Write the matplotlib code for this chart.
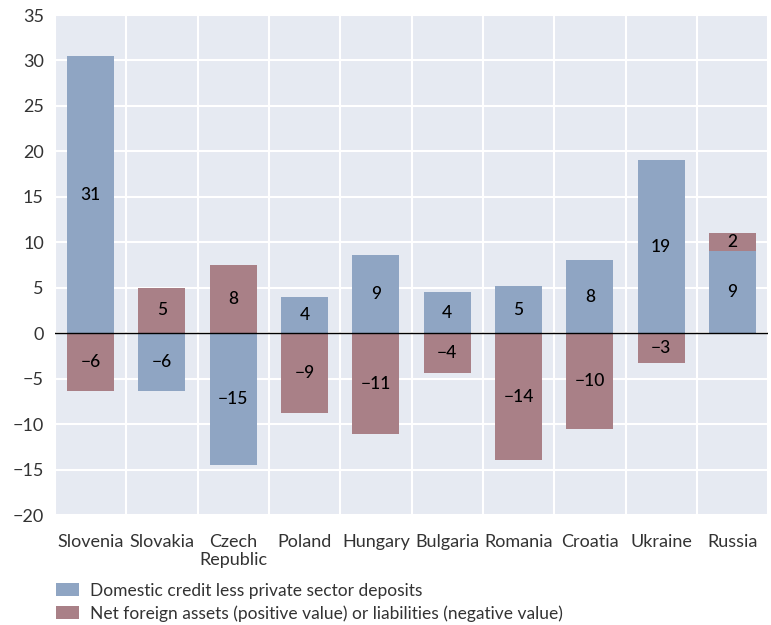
import matplotlib
matplotlib.use("Agg")
import matplotlib.pyplot as plt
import numpy as np

countries = ["Slovenia", "Slovakia", "Czech\nRepublic", "Poland", "Hungary",
             "Bulgaria", "Romania", "Croatia", "Ukraine", "Russia"]
domestic = [30.5, -6.4, -14.5, 4.0, 8.6, 4.5, 5.2, 8.0, 19.0, 9.0]
foreign = [-6.4, 5.0, 7.5, -8.8, -11.1, -4.4, -14.0, -10.5, -3.3, 2.0]
labels_dom = ["31", "\u22126", "\u221215", "4", "9", "4", "5", "8", "19", "9"]
labels_for = ["\u22126", "5", "8", "\u22129", "\u221211", "\u22124", "\u221214", "\u221210", "\u22123", "2"]
yticks = [35, 30, 25, 20, 15, 10, 5, 0, -5, -10, -15, -20]

blue = "#8fa5c3"
red = "#a98087"
bg = "#e6eaf2"

plt.rcParams['font.family'] = ['Lato', 'DejaVu Sans']
fig = plt.figure(figsize=(7.71, 6.25), dpi=100)
ax = fig.add_axes([0.0713, 0.176, 0.925, 0.8])
ax.set_facecolor(bg)

x = np.arange(len(countries))
w = 0.66
f_bottom = [d if (d > 0 and f > 0) or (d < 0 and f < 0) else 0 for d, f in zip(domestic, foreign)]
ax.bar(x, domestic, w, color=blue, zorder=3,
       label="Domestic credit less private sector deposits")
ax.bar(x, foreign, w, bottom=f_bottom, color=red, zorder=3,
       label="Net foreign assets (positive value) or liabilities (negative value)")

for i in range(len(countries)):
    ax.text(x[i], domestic[i] / 2, labels_dom[i], ha="center", va="center",
            fontsize=12.5, color="black", fontweight="medium", zorder=4)
    ax.text(x[i], f_bottom[i] + foreign[i] / 2, labels_for[i], ha="center", va="center",
            fontsize=12.5, color="black", fontweight="medium", zorder=4)

ax.axhline(0, color="black", lw=1, zorder=5)
ax.set_xlim(-0.5, len(countries) - 0.5)
ax.set_ylim(-20, 35)
ax.set_yticks(yticks)
ax.set_yticklabels([str(t).replace("-", "\u2212") for t in yticks])
ax.set_xticks(np.arange(len(countries) + 1) - 0.5, minor=False)
ax.set_xticklabels([])
ax.set_xticks(x, minor=True)
ax.set_xticklabels(countries, minor=True, linespacing=1.1)
ax.grid(True, which="major", color="white", lw=1.5, zorder=1)
ax.tick_params(axis="both", which="both", length=0, labelsize=13, colors="#333333")
ax.tick_params(axis="x", which="minor", pad=14)
ax.tick_params(axis="y", pad=8)
for s in ax.spines.values():
    s.set_visible(False)

leg = fig.legend(loc="lower left", bbox_to_anchor=(0.068, 0.0), frameon=False,
                 fontsize=12.5, handlelength=1.35, handleheight=0.8,
                 labelspacing=0.35, handletextpad=0.6, labelcolor="#333333",
                 borderaxespad=0.0, borderpad=0.2)
fig.savefig("out.png", dpi=100)
